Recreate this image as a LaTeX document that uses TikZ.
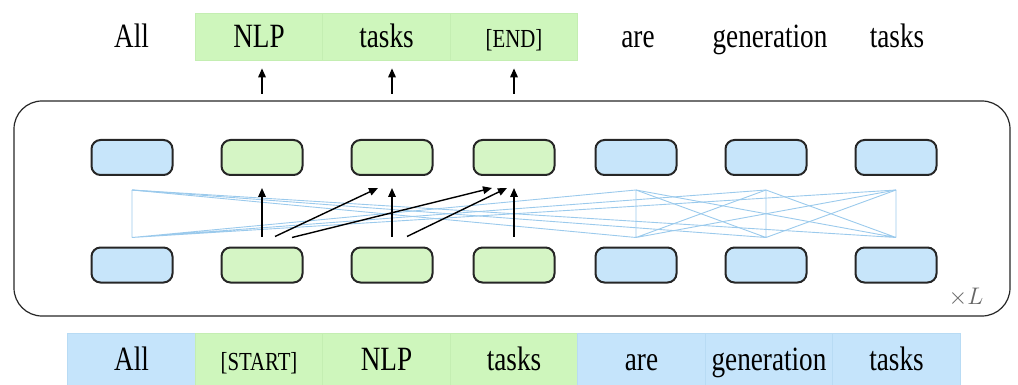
\documentclass[tikz,border=0pt]{standalone}
\usepackage{fontspec}
\setmainfont{Liberation Serif}
\usepackage{graphicx}
\usetikzlibrary{arrows.meta}

\definecolor{tokgreen}{RGB}{213,245,197}
\definecolor{tokblue}{RGB}{199,229,250}
\definecolor{bandgreen}{RGB}{206,246,188}
\definecolor{bandblue}{RGB}{197,228,251}
\definecolor{rulegreen}{RGB}{196,238,178}
\definecolor{ruleblue}{RGB}{184,219,244}
\definecolor{attnblue}{RGB}{155,202,236}

\newcommand{\nar}[1]{\scalebox{0.8}[1]{#1}}

\tikzset{
	ctx/.style={draw=black!85,line width=1pt,rounded corners=4.5pt,fill=tokblue,minimum width=40.5pt,minimum height=17.5pt,inner sep=0},
	gen/.style={ctx,fill=tokgreen},
	word/.style={font=\fontsize{17}{20}\selectfont,text height=14pt,text depth=2.5pt,inner sep=0,minimum width=63.75pt},
	tag/.style={word,font=\fontsize{13}{15}\selectfont},
	topcell/.style={fill=bandgreen,draw=rulegreen,line width=0.4pt,minimum height=23.5pt},
	incellg/.style={fill=bandgreen,draw=rulegreen,line width=0.4pt,minimum height=26pt},
	incellb/.style={fill=bandblue,draw=ruleblue,line width=0.4pt,minimum height=26pt},
	frame/.style={draw=black!85,line width=0.6pt,rounded corners=14pt},
	attn/.style={draw=attnblue,line width=0.45pt},
	flow/.style={-{Triangle[length=4.5pt,width=3.8pt]},line width=0.7pt},
	rep/.style={font=\fontsize{13}{15}\selectfont,text=black!60}
}

\begin{document}
\begin{tikzpicture}[x=0.5pt,y=-0.5pt]
	\useasboundingbox (0,0) rectangle (1018,385);
	% output tokens
	\node[word] (out1) at (131.5,36.5) {\nar{All}};
	\node[word,topcell] (out2) at (259,36.5) {\nar{NLP}};
	\node[word,topcell] (out3) at (386.5,36.5) {\nar{tasks}};
	\node[tag,topcell] (out4) at (514,36.5) {\nar{[END]}};
	\node[word] (out5) at (638,36.5) {\nar{are}};
	\node[word] (out6) at (770,36.5) {\nar{generation}};
	\node[word] (out7) at (897,36.5) {\nar{tasks}};
	% input tokens
	\node[word,incellb] (in1) at (131.5,359) {\nar{All}};
	\node[tag,incellg] (in2) at (259,359) {\nar{[START]}};
	\node[word,incellg] (in3) at (386.5,359) {\nar{NLP}};
	\node[word,incellg] (in4) at (514,359) {\nar{tasks}};
	\node[word,incellb] (in5) at (641.5,359) {\nar{are}};
	\node[word,incellb] (in6) at (769,359) {\nar{generation}};
	\node[word,incellb] (in7) at (896.5,359) {\nar{tasks}};
	% layer frame
	\draw[frame] (14,101) rectangle (1010,316);
	\node[rep] (rep) at (966,297) {$\times L$};
	% upper states
	\node[ctx] (h1) at (132,157.5) {};
	\node[gen] (h2) at (262,157.5) {};
	\node[gen] (h3) at (392,157.5) {};
	\node[gen] (h4) at (514,157.5) {};
	\node[ctx] (h5) at (636,157.5) {};
	\node[ctx] (h6) at (766,157.5) {};
	\node[ctx] (h7) at (896,157.5) {};
	% lower states
	\node[ctx] (l1) at (132,265) {};
	\node[gen] (l2) at (262,265) {};
	\node[gen] (l3) at (392,265) {};
	\node[gen] (l4) at (514,265) {};
	\node[ctx] (l5) at (636,265) {};
	\node[ctx] (l6) at (766,265) {};
	\node[ctx] (l7) at (896,265) {};
	% context attention
	\coordinate (b1) at ([yshift=4.5pt]l1.north);
	\coordinate (b5) at ([yshift=4.5pt]l5.north);
	\coordinate (b6) at ([yshift=4.5pt]l6.north);
	\coordinate (b7) at ([yshift=4.5pt]l7.north);
	\coordinate (t1) at ([yshift=-7pt]h1.south);
	\coordinate (t5) at ([yshift=-7pt]h5.south);
	\coordinate (t6) at ([yshift=-7pt]h6.south);
	\coordinate (t7) at ([yshift=-7pt]h7.south);
	\draw[attn] (b1) -- (t1) (b1) -- (t5) (b1) -- (t6) (b1) -- (t7);
	\draw[attn] (b5) -- (t1) (b5) -- (t5) (b5) -- (t6) (b5) -- (t7);
	\draw[attn] (b6) -- (t1) (b6) -- (t5) (b6) -- (t6) (b6) -- (t7);
	\draw[attn] (b7) -- (t1) (b7) -- (t5) (b7) -- (t6) (b7) -- (t7);
	% generation attention
	\draw[flow] ([yshift=5pt]l2.north) -- ([yshift=-6pt]h2.south);
	\draw[flow] ([yshift=5pt]l3.north) -- ([yshift=-6pt]h3.south);
	\draw[flow] ([yshift=5pt]l4.north) -- ([yshift=-6pt]h4.south);
	\draw[flow] ([shift={(6.5pt,5pt)}]l2.north) -- ([shift={(-7pt,-6pt)}]h3.south);
	\draw[flow] ([shift={(15pt,4.5pt)}]l2.north) -- ([shift={(-11pt,-6pt)}]h4.south);
	\draw[flow] ([shift={(7.5pt,5pt)}]l3.north) -- ([shift={(-3.5pt,-6pt)}]h4.south);
	% outputs
	\draw[flow] ([yshift=22.5pt]h2.north) -- ([yshift=-4pt]h2.north |- out2.south);
	\draw[flow] ([yshift=22.5pt]h3.north) -- ([yshift=-4pt]h3.north |- out3.south);
	\draw[flow] ([yshift=22.5pt]h4.north) -- ([yshift=-4pt]h4.north |- out4.south);
\end{tikzpicture}
\end{document}
